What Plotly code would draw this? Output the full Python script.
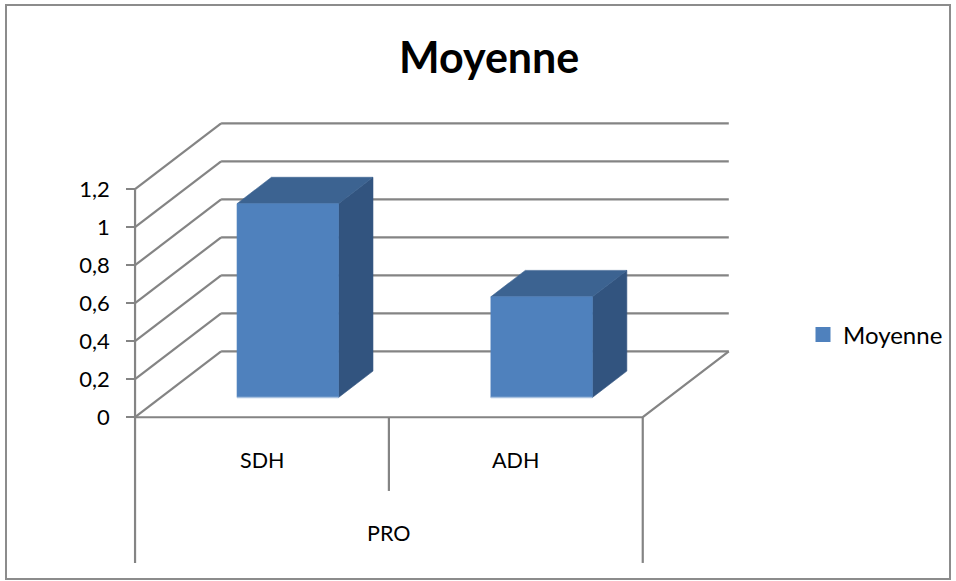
import plotly.graph_objects as go

# ---- data ----
categories = ["SDH", "ADH"]
group_label = "PRO"
series_name = "Moyenne"
values = [1.02, 0.53]
y_ticks = [0, 0.2, 0.4, 0.6, 0.8, 1.0, 1.2]
y_tick_labels = ["0", "0,2", "0,4", "0,6", "0,8", "1", "1,2"]

# ---- styling / 3-D projection parameters (data units) ----
W, H = 956, 581
X_RANGE = [-0.532, 3.234]
Y_RANGE = [-0.862, 2.196]
DEPTH_X = 0.339          # horizontal shift of the back wall
DEPTH_Y = 0.347          # vertical shift of the back wall
BAR_HALF = 0.2           # half bar width in category units
BAR_FRONT, BAR_BACK = 0.3, 0.7   # bar depth as a fraction of the floor depth
OUTER_BOTTOM = -0.767    # end of outer category dividers
INNER_BOTTOM = -0.388    # end of inner category dividers
CAT_LABEL_Y = -0.225
GROUP_LABEL_Y = -0.609

GRID = "#848484"
FRONT = "#4f81bd"
TOP = "#3c6391"
SIDE = "#32547f"
EDGE = "#a9c1df"
FONT = "Lato"

fig = go.Figure()


def line(xs, ys, color=GRID, width=2.2):
    fig.add_trace(go.Scatter(x=xs, y=ys, mode="lines",
                             line=dict(color=color, width=width),
                             hoverinfo="skip", showlegend=False))


def face(pts, color):
    xs = [p[0] for p in pts] + [pts[0][0]]
    ys = [p[1] for p in pts] + [pts[0][1]]
    fig.add_trace(go.Scatter(x=xs, y=ys, mode="lines", fill="toself",
                             fillcolor=color, line=dict(color=color, width=0.6),
                             hoverinfo="skip", showlegend=False))


n = len(categories)
top_val = y_ticks[-1]

# back wall gridlines and side wall diagonals
for v in y_ticks:
    line([DEPTH_X, n + DEPTH_X], [v + DEPTH_Y, v + DEPTH_Y])
    line([0, DEPTH_X], [v, v + DEPTH_Y])

# floor outline (front and right edges)
line([0, n, n + DEPTH_X], [0, 0, DEPTH_Y])

# front value axis continuing into the category divider
line([0, 0], [top_val, OUTER_BOTTOM])
line([n, n], [0, OUTER_BOTTOM])
for i in range(1, n):
    line([i, i], [0, INNER_BOTTOM])

# 3-D bars
for i, h in enumerate(values):
    x0 = i + 0.5 - BAR_HALF
    x1 = i + 0.5 + BAR_HALF
    fx, fy = BAR_FRONT * DEPTH_X, BAR_FRONT * DEPTH_Y
    bx, by = BAR_BACK * DEPTH_X, BAR_BACK * DEPTH_Y
    face([(x1 + fx, fy), (x1 + bx, by), (x1 + bx, h + by), (x1 + fx, h + fy)], SIDE)
    face([(x0 + fx, h + fy), (x1 + fx, h + fy), (x1 + bx, h + by), (x0 + bx, h + by)], TOP)
    face([(x0 + fx, fy), (x1 + fx, fy), (x1 + fx, h + fy), (x0 + fx, h + fy)], FRONT)
    line([x0 + fx, x1 + fx], [fy, fy], color=EDGE, width=1.5)

# legend entry
fig.add_trace(go.Scatter(x=[None], y=[None], mode="markers", name=series_name,
                         marker=dict(symbol="square", size=15, color=FRONT),
                         showlegend=True))

annotations = []
for i, c in enumerate(categories):
    annotations.append(dict(x=i + 0.5, y=CAT_LABEL_Y, text=c, showarrow=False,
                            xanchor="center", yanchor="middle",
                            font=dict(family=FONT, size=21.5, color="#000")))
annotations.append(dict(x=n / 2, y=GROUP_LABEL_Y, text=group_label, showarrow=False,
                        xanchor="center", yanchor="middle",
                        font=dict(family=FONT, size=21.5, color="#000")))
annotations.append(dict(xref="paper", yref="paper", x=489 / W, y=1 - 57 / H,
                        text="<b>Moyenne</b>", showarrow=False,
                        xanchor="center", yanchor="middle",
                        font=dict(family=FONT, size=43, color="#000")))

fig.update_layout(
    width=W, height=H,
    margin=dict(l=0, r=0, t=0, b=0),
    paper_bgcolor="white", plot_bgcolor="white",
    xaxis=dict(range=X_RANGE, visible=False, fixedrange=True),
    yaxis=dict(range=Y_RANGE, anchor="free", position=-X_RANGE[0] / (X_RANGE[1] - X_RANGE[0]),
               tickvals=y_ticks, ticktext=y_tick_labels,
               ticks="outside", ticklen=9, tickwidth=2.2, tickcolor=GRID,
               ticklabelstandoff=12,
               showgrid=False, zeroline=False, showline=False, fixedrange=True,
               tickfont=dict(family=FONT, size=22, color="#000")),
    showlegend=True,
    legend=dict(x=803 / W, y=1 - 335 / H, xanchor="left", yanchor="middle",
                bgcolor="rgba(0,0,0,0)", itemsizing="trace",
                font=dict(family=FONT, size=24, color="#000")),
    annotations=annotations,
    shapes=[dict(type="rect", xref="paper", yref="paper",
                 x0=6 / W, x1=950 / W, y0=1 - 579 / H, y1=1 - 5 / H,
                 line=dict(color="#8c8c8c", width=2))],
)

fig.write_html("out.html")
